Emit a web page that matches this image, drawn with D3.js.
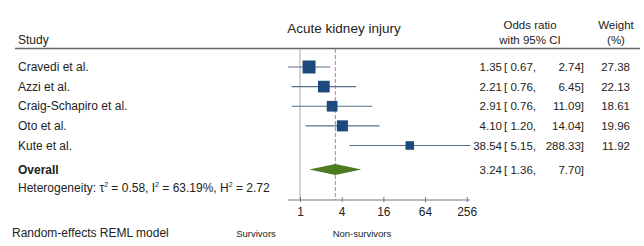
<!DOCTYPE html>
<html>
<head>
<meta charset="utf-8">
<script src="https://cdn.jsdelivr.net/npm/d3@7"></script>
<style>
body { margin: 0; background: #fff; }
text { font-family: "Liberation Sans", Arial, sans-serif; fill: #222; }
</style>
</head>
<body>
<script>
var w = 644;
var h = 246;

// data
var studies = ["Cravedi et al.", "Azzi et al.", "Craig-Schapiro et al.", "Oto et al.", "Kute et al."];
var est = [1.35, 2.21, 2.91, 4.10, 38.54];
var lower = [0.67, 0.76, 0.76, 1.20, 5.15];
var upper = [2.74, 6.45, 11.09, 14.04, 288.33];
var weights = [27.38, 22.13, 18.61, 19.96, 11.92];
var overall = [3.24, 1.36, 7.70];
var ticks = [1, 4, 16, 64, 256];

var svg = d3.select("body")
    .append("svg")
        .attr("width", w)
        .attr("height", h);

var x = d3.scaleLog().base(2).domain([1, 256]).range([300, 466.7]);
var y = d3.scaleLinear().domain([0, 4]).range([67, 145.5]);
var yOverall = 169.5;
var fmt = d3.format(".2f");

// header
svg.append("text").attr("x", 18).attr("y", 44).attr("font-size", 12).text("Study");
svg.append("text").attr("x", 344).attr("y", 33).attr("font-size", 13.5)
    .attr("text-anchor", "middle").text("Acute kidney injury");
svg.append("text").attr("x", 530).attr("y", 29).attr("font-size", 11.5)
    .attr("text-anchor", "middle").text("Odds ratio");
svg.append("text").attr("x", 530).attr("y", 44).attr("font-size", 11.5)
    .attr("text-anchor", "middle").text("with 95% CI");
svg.append("text").attr("x", 616).attr("y", 29).attr("font-size", 11.5)
    .attr("text-anchor", "middle").text("Weight");
svg.append("text").attr("x", 616).attr("y", 44).attr("font-size", 11.5)
    .attr("text-anchor", "middle").text("(%)");
svg.append("line").attr("x1", 15).attr("x2", 640).attr("y1", 48.5).attr("y2", 48.5)
    .attr("stroke", "#666").attr("stroke-width", 1.5);

// reference line at 1
svg.append("line").attr("x1", x(1)).attr("x2", x(1)).attr("y1", 49).attr("y2", 200)
    .attr("stroke", "#aaa").attr("stroke-width", 1);

// overall line
svg.append("line").attr("x1", x(overall[0])).attr("x2", x(overall[0]))
    .attr("y1", 49).attr("y2", 200)
    .attr("stroke", "#e56a84").attr("stroke-width", 1).attr("stroke-dasharray", "4,2");

// CI lines
svg.selectAll(".ci").data(studies).enter().append("line")
    .attr("x1", function(d, i) { return x(lower[i]); })
    .attr("x2", function(d, i) { return x(upper[i]); })
    .attr("y1", function(d, i) { return y(i); })
    .attr("y2", function(d, i) { return y(i); })
    .attr("stroke", "#55708f").attr("stroke-width", 1.1);

// squares sized by weight
var side = function(i) { return 2.48 * Math.sqrt(weights[i]); };
svg.selectAll(".sq").data(studies).enter().append("rect")
    .attr("x", function(d, i) { return x(est[i]) - side(i) / 2; })
    .attr("y", function(d, i) { return y(i) - side(i) / 2; })
    .attr("width", function(d, i) { return side(i); })
    .attr("height", function(d, i) { return side(i); })
    .attr("fill", "#1c4a7e");

// overall diamond
svg.append("path")
    .attr("d", "M" + x(overall[1]) + "," + yOverall +
        "L" + x(overall[0]) + "," + (yOverall - 5.5) +
        "L" + x(overall[2]) + "," + yOverall +
        "L" + x(overall[0]) + "," + (yOverall + 5.5) + "Z")
    .attr("fill", "#4e7a22");

// study labels and numbers
var rows = svg.selectAll(".row").data(studies).enter().append("g")
    .attr("transform", function(d, i) { return "translate(0," + (y(i) + 4) + ")"; });
rows.append("text").attr("x", 18).attr("font-size", 12).text(function(d) { return d; });
rows.append("text").attr("x", 502).attr("text-anchor", "end").attr("font-size", 11.5)
    .text(function(d, i) { return fmt(est[i]); });
rows.append("text").attr("x", 504).attr("font-size", 11.5)
    .text(function(d, i) { return "[ " + fmt(lower[i]) + ","; });
rows.append("text").attr("x", 584).attr("text-anchor", "end").attr("font-size", 11.5)
    .text(function(d, i) { return fmt(upper[i]) + "]"; });
rows.append("text").attr("x", 630).attr("text-anchor", "end").attr("font-size", 11.5)
    .text(function(d, i) { return fmt(weights[i]); });

// overall row
var oy = yOverall + 4;
svg.append("text").attr("x", 18).attr("y", oy).attr("font-size", 12)
    .attr("font-weight", "bold").text("Overall");
svg.append("text").attr("x", 502).attr("y", oy).attr("text-anchor", "end").attr("font-size", 11.5)
    .text(fmt(overall[0]));
svg.append("text").attr("x", 504).attr("y", oy).attr("font-size", 11.5)
    .text("[ " + fmt(overall[1]) + ",");
svg.append("text").attr("x", 584).attr("y", oy).attr("text-anchor", "end").attr("font-size", 11.5)
    .text(fmt(overall[2]) + "]");

var het = svg.append("text").attr("x", 18).attr("y", 192).attr("font-size", 12);
het.append("tspan").text("Heterogeneity: \u03c4");
het.append("tspan").attr("dy", -5).attr("font-size", 7).text("2");
het.append("tspan").attr("dy", 5).text(" = 0.58, I");
het.append("tspan").attr("dy", -5).attr("font-size", 7).text("2");
het.append("tspan").attr("dy", 5).text(" = 63.19%, H");
het.append("tspan").attr("dy", -5).attr("font-size", 7).text("2");
het.append("tspan").attr("dy", 5).text(" = 2.72");

// x axis
var axis = svg.append("g").attr("transform", "translate(0,200)")
    .call(d3.axisBottom(x).tickValues(ticks).tickFormat(d3.format("d")).tickSize(4).tickSizeOuter(0));
axis.select(".domain").remove();
axis.append("line").attr("x1", 288).attr("x2", 470).attr("stroke", "#777");
axis.selectAll(".tick line").attr("stroke", "#777").attr("y1", -3).attr("y2", 2);
axis.selectAll(".tick text").attr("font-size", 12).attr("font-family", "Liberation Sans, Arial, sans-serif")
    .attr("fill", "#222").attr("dy", "0.71em").attr("y", 7);

svg.append("text").attr("x", 12).attr("y", 237).attr("font-size", 12).text("Random-effects REML model");
svg.append("text").attr("x", 256).attr("y", 237).attr("font-size", 9.5)
    .attr("text-anchor", "middle").text("Survivors");
svg.append("text").attr("x", 362).attr("y", 237).attr("font-size", 9.5)
    .attr("text-anchor", "middle").text("Non-survivors");
</script>
</body>
</html>
